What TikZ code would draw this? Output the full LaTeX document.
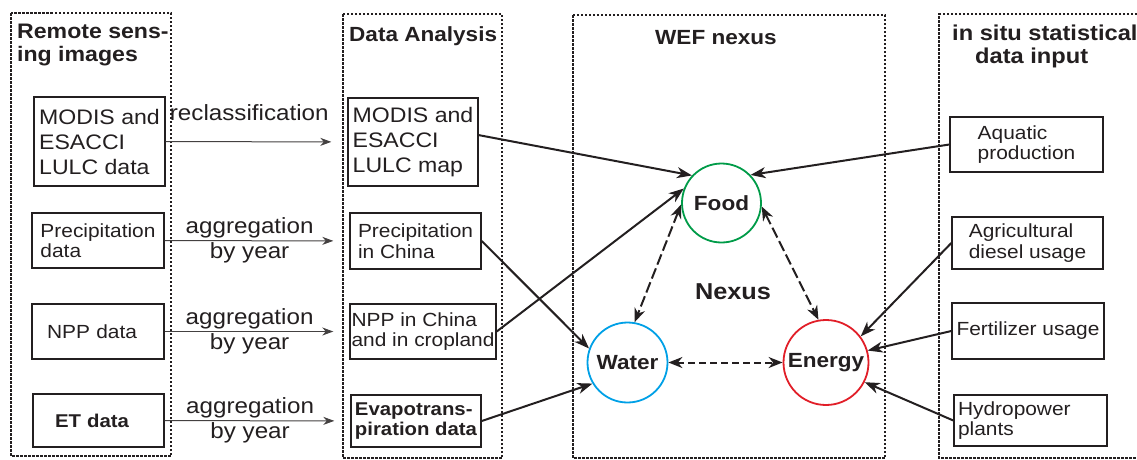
\documentclass[tikz,border=0pt]{standalone}
\usepackage{fontspec}
\setmainfont{Liberation Sans}[FakeStretch=1.1]
\usetikzlibrary{arrows.meta, positioning}
\definecolor{ink}{RGB}{35,31,32}
\definecolor{foodgreen}{RGB}{0,155,72}
\definecolor{waterblue}{RGB}{0,160,230}
\definecolor{energyred}{RGB}{225,30,40}

\begin{document}
\begin{tikzpicture}[x=1pt, y=-1pt, every node/.style={text=ink},
	group/.style = {% dashed frame of a column
		draw=ink, line width=1.3pt, dash pattern=on 2.5pt off 1.5pt},
	head/.style = {anchor=north west, inner sep=0pt, align=left,
		font=\bfseries\fontsize{#1}{23}\selectfont},
	box/.style = {draw=ink, line width=1.4pt, align=left, inner sep=0pt,
		minimum width=#1},
	bigtext/.style = {font=\fontsize{21}{25}\selectfont},
	smalltext/.style = {font=\fontsize{19}{20.5}\selectfont},
	boldtext/.style = {font=\bfseries\fontsize{18.5}{20.5}\selectfont},
	ring/.style = {circle, draw=#1, line width=1.8pt, inner sep=0pt,
		font=\bfseries\fontsize{20.5}{24}\selectfont},
	flow arrow/.style = {% thin arrow between columns
		draw=ink!85, line width=1pt, shorten >=16pt,
		-{Stealth[length=11pt, width=8pt, inset=3.5pt]}},
	lab/.style = {align=center, inner sep=0pt, pos=0.46,
		font=\fontsize{22}{25}\selectfont},
	link/.style = {% thick arrow into the nexus
		draw=ink, line width=2pt,
		-{Stealth[length=15pt, width=11pt, inset=4.5pt]}},
	tie/.style = {% dashed two-way arrow in the nexus
		draw=ink, line width=2pt, dash pattern=on 11pt off 4pt,
		{Stealth[length=14pt, width=11pt, inset=4.5pt]}-{Stealth[length=14pt, width=11pt, inset=4.5pt]}}]

\useasboundingbox (0,0) rectangle (1137,459);

% columns
\draw[group] (11,13) rectangle (171,456);
\draw[group] (343,14) rectangle (502,458);
\draw[group] (573,15) rectangle (885,458);
\draw[group] (1137,14) -- (939,14) -- (939,458) -- (1137,458);

\node[head=21] (t1) at (17,24) {Remote sens-\\ing images};
\node[head=20.5] (t2) at (349,26) {Data Analysis};
\node[head=20.5] (t3) at (655,30) {WEF nexus};
\node[head=21.5] (t4) at (952,25) {in situ statistical\\\hspace*{23pt}data input};

% remote sensing images
\node[box=131, bigtext, minimum height=89] (mdata) at (99.5,141.5) {MODIS and\\ESACCI\\LULC data};
\node[box=132, smalltext, minimum height=55] (pdata) at (98,240.5) {Precipitation\\data};
\node[box=132, smalltext, minimum height=55, text width=102pt, inner xsep=15pt] (ndata) at (98,331.5) {NPP data};
\node[box=131, boldtext, minimum height=53, text width=87pt, inner xsep=22pt] (edata) at (98.5,420.5) {ET data};

% data analysis
\node[box=130, bigtext, minimum height=88] (mmap) at (413,142) {MODIS and\\ESACCI\\LULC map};
\node[box=131, smalltext, minimum height=56] (pchina) at (415.5,241) {Precipitation\\in China};
\node[box=146, smalltext, minimum height=55] (nchina) at (423,331.5) {NPP in China\\and in cropland};
\node[box=130, boldtext, minimum height=52] (evap) at (416,421) {Evapotrans-\\piration data};

% in situ data
\node[box=153, smalltext, minimum height=55] (aqua) at (1026.5,144.5) {Aquatic\\production};
\node[box=151, smalltext, minimum height=52] (agri) at (1027.5,243) {Agricultural\\diesel usage};
\node[box=152, smalltext, minimum height=56] (fert) at (1028,331) {Fertilizer usage};
\node[box=153, smalltext, minimum height=51, text width=145pt, inner xsep=4pt] (hydro) at (1030.5,420.5) {Hydropower\\plants};

% nexus
\node[ring=foodgreen, minimum size=79] (food) at (721.5,203) {Food};
\node[ring=waterblue, minimum size=80] (water) at (627.5,362.5) {Water};
\node[ring=energyred, minimum size=85] (energy) at (826,362.5) {Energy};
\node[inner sep=0pt, font=\bfseries\fontsize{23}{26}\selectfont] (nexus) at (733,292) {Nexus};

% arrows between columns
\draw[flow arrow] (mdata) -- node[lab, above=21pt, anchor=base] {reclassification} (mmap);
\draw[flow arrow] (pdata) -- node[lab] {aggregation\\by year} (pchina);
\draw[flow arrow] (ndata) -- node[lab] {aggregation\\by year} (nchina);
\draw[flow arrow] (edata) -- node[lab] {aggregation\\by year} (evap);

% into the nexus
\draw[link] (mmap.6) -- (food.137);
\draw[link] (nchina.east) -- (food.159);
\draw[link] (aqua.west) -- (food.44);
\draw[link] (pchina.east) -- (water.160);
\draw[link] (evap.east) -- (water.211);
\draw[link] (agri.west) -- (energy.37);
\draw[link] (fert.west) -- (energy.16);
\draw[link] (hydro.west) -- (energy.-27);

\draw[tie] (food.182) -- (water.80);
\draw[tie] (food.-5) -- (energy.100);
\draw[tie, dash pattern=on 7pt off 4pt] (water) -- (energy);
\end{tikzpicture}
\end{document}
